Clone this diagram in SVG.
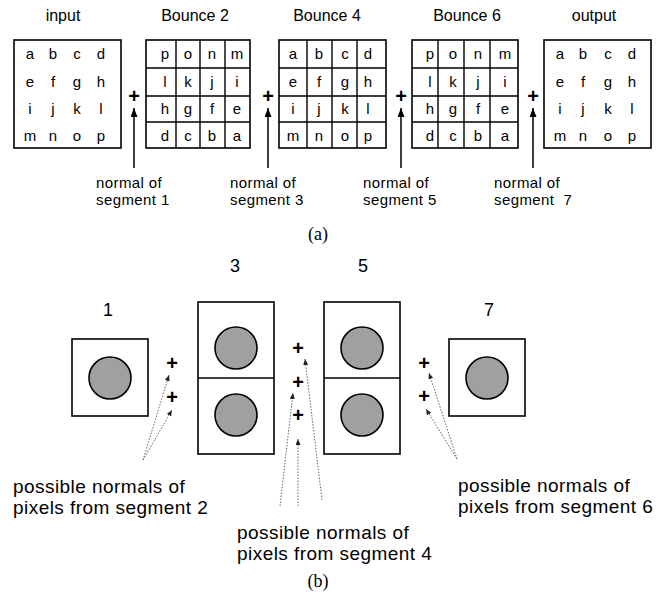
<svg xmlns="http://www.w3.org/2000/svg" width="663" height="597" viewBox="0 0 663 597">
<defs>
<marker id="ah" markerUnits="userSpaceOnUse" markerWidth="10" markerHeight="8" refX="9" refY="3.5" orient="auto"><path d="M0,0 L9,3.5 L0,7 z" fill="#000"/></marker>
<marker id="ahs" markerUnits="userSpaceOnUse" markerWidth="7" markerHeight="6" refX="6" refY="2.5" orient="auto"><path d="M0,0 L6,2.5 L0,5 z" fill="#222"/></marker>
</defs>
<style>
text{font-family:"Liberation Sans",Arial,sans-serif;fill:#000}
.lab{font-size:16px;text-anchor:middle}
.let{font-size:15px;text-anchor:middle}
.note{font-size:15px;letter-spacing:0.4px}
.big{font-size:19px;letter-spacing:0.45px}
.num{font-size:18px;text-anchor:middle}
.cap{font-family:"Liberation Serif","Times New Roman",serif;font-size:18px;text-anchor:middle}
.plus{font-weight:bold;font-size:20px;text-anchor:middle}
.box{fill:#fff;stroke:#000;stroke-width:1.6}
.grid{stroke:#000;stroke-width:1.4;fill:none}
.dot{fill:#a0a0a0;stroke:#000;stroke-width:1.6}
.arr{stroke:#000;stroke-width:1.5;fill:none;marker-end:url(#ah)}
.dash{stroke:#666;stroke-width:1;stroke-dasharray:1.5 1.5;fill:none;marker-end:url(#ahs)}
</style>

<!-- (a) -->
<g id="input">
<text class="lab" x="63" y="21">input</text>
<rect class="box" x="14" y="40" width="107" height="108"/>
<g class="let">
<text x="30" y="59">a</text><text x="53" y="59">b</text><text x="77" y="59">c</text><text x="101" y="59">d</text>
<text x="30" y="87">e</text><text x="53" y="87">f</text><text x="77" y="87">g</text><text x="101" y="87">h</text>
<text x="30" y="114">i</text><text x="53" y="114">j</text><text x="77" y="114">k</text><text x="101" y="114">l</text>
<text x="30" y="141">m</text><text x="53" y="141">n</text><text x="77" y="141">o</text><text x="101" y="141">p</text>
</g>
</g>

<g id="bounce2">
<text class="lab" x="195" y="21">Bounce 2</text>
<rect class="box" x="146" y="40" width="104" height="108"/>
<path class="grid" d="M176,40V148M200,40V148M225,40V148M146,68H250M146,96H250M146,122H250"/>
<g class="let">
<text x="165" y="59">p</text><text x="188" y="59">o</text><text x="212" y="59">n</text><text x="237" y="59">m</text>
<text x="165" y="87">l</text><text x="188" y="87">k</text><text x="212" y="87">j</text><text x="237" y="87">i</text>
<text x="165" y="114">h</text><text x="188" y="114">g</text><text x="212" y="114">f</text><text x="237" y="114">e</text>
<text x="165" y="141">d</text><text x="188" y="141">c</text><text x="212" y="141">b</text><text x="237" y="141">a</text>
</g>
</g>

<g id="bounce4">
<text class="lab" x="327" y="21">Bounce 4</text>
<rect class="box" x="279" y="40" width="107" height="108"/>
<path class="grid" d="M307,40V148M332,40V148M357,40V148M279,68H386M279,96H386M279,122H386"/>
<g class="let">
<text x="293" y="59">a</text><text x="319" y="59">b</text><text x="345" y="59">c</text><text x="368" y="59">d</text>
<text x="293" y="87">e</text><text x="319" y="87">f</text><text x="345" y="87">g</text><text x="368" y="87">h</text>
<text x="293" y="114">i</text><text x="319" y="114">j</text><text x="345" y="114">k</text><text x="368" y="114">l</text>
<text x="293" y="141">m</text><text x="319" y="141">n</text><text x="345" y="141">o</text><text x="368" y="141">p</text>
</g>
</g>

<g id="bounce6">
<text class="lab" x="467" y="21">Bounce 6</text>
<rect class="box" x="412" y="40" width="106" height="108"/>
<path class="grid" d="M438,40V148M464,40V148M490,40V148M412,68H518M412,96H518M412,122H518"/>
<g class="let">
<text x="430" y="59">p</text><text x="453" y="59">o</text><text x="478" y="59">n</text><text x="505" y="59">m</text>
<text x="430" y="87">l</text><text x="453" y="87">k</text><text x="478" y="87">j</text><text x="505" y="87">i</text>
<text x="430" y="114">h</text><text x="453" y="114">g</text><text x="478" y="114">f</text><text x="505" y="114">e</text>
<text x="430" y="141">d</text><text x="453" y="141">c</text><text x="478" y="141">b</text><text x="505" y="141">a</text>
</g>
</g>

<g id="output">
<text class="lab" x="594" y="21">output</text>
<rect class="box" x="544" y="40" width="107" height="108"/>
<g class="let">
<text x="560" y="59">a</text><text x="583" y="59">b</text><text x="608" y="59">c</text><text x="632" y="59">d</text>
<text x="560" y="87">e</text><text x="583" y="87">f</text><text x="608" y="87">g</text><text x="632" y="87">h</text>
<text x="560" y="114">i</text><text x="583" y="114">j</text><text x="608" y="114">k</text><text x="632" y="114">l</text>
<text x="560" y="141">m</text><text x="583" y="141">n</text><text x="608" y="141">o</text><text x="632" y="141">p</text>
</g>
</g>

<g id="normals-a">
<text class="plus" x="134" y="103">+</text>
<text class="plus" x="268" y="103">+</text>
<text class="plus" x="401" y="103">+</text>
<text class="plus" x="533" y="103">+</text>
<text class="note" x="96" y="188">normal of</text><text class="note" x="96" y="205">segment 1</text>
<text class="note" x="230" y="188">normal of</text><text class="note" x="230" y="205">segment 3</text>
<text class="note" x="363" y="188">normal of</text><text class="note" x="363" y="205">segment 5</text>
<text class="note" x="494" y="188" xml:space="preserve">normal of</text><text class="note" x="494" y="205" xml:space="preserve">segment  7</text>
</g>

<g id="connectors-a">
<line class="arr" x1="134" y1="168" x2="134" y2="108"/>
<line class="arr" x1="268" y1="168" x2="268" y2="108"/>
<line class="arr" x1="401" y1="168" x2="401" y2="108"/>
<line class="arr" x1="533" y1="168" x2="533" y2="108"/>
</g>

<text class="cap" x="318" y="240">(a)</text>

<!-- (b) -->
<g id="seg1">
<text class="num" x="108" y="316">1</text>
<rect class="box" x="72" y="339" width="76" height="77"/>
<circle class="dot" cx="110" cy="378" r="21"/>
</g>
<g id="seg3">
<text class="num" x="235" y="272">3</text>
<rect class="box" x="198" y="302" width="76" height="152"/>
<line class="grid" x1="198" y1="378" x2="274" y2="378"/>
<circle class="dot" cx="236" cy="348" r="21"/>
<circle class="dot" cx="236" cy="415" r="21"/>
</g>
<g id="seg5">
<text class="num" x="363" y="272">5</text>
<rect class="box" x="324" y="302" width="76" height="152"/>
<line class="grid" x1="324" y1="378" x2="400" y2="378"/>
<circle class="dot" cx="362" cy="348" r="21"/>
<circle class="dot" cx="362" cy="415" r="21"/>
</g>
<g id="seg7">
<text class="num" x="489" y="316">7</text>
<rect class="box" x="449" y="339" width="76" height="77"/>
<circle class="dot" cx="487" cy="378" r="21"/>
</g>

<g id="normals-b">
<text class="plus" x="172" y="370">+</text>
<text class="plus" x="172" y="404">+</text>
<text class="plus" x="298" y="355">+</text>
<text class="plus" x="298" y="389">+</text>
<text class="plus" x="298" y="422">+</text>
<text class="plus" x="424" y="370">+</text>
<text class="plus" x="424" y="403">+</text>
</g>

<g id="connectors-b">
<line class="dash" x1="143" y1="460" x2="169" y2="375"/>
<line class="dash" x1="143" y1="460" x2="172" y2="410"/>
<line class="dash" x1="280" y1="506" x2="293" y2="393"/>
<line class="dash" x1="298" y1="506" x2="298" y2="439"/>
<line class="dash" x1="322" y1="500" x2="305" y2="359"/>
<line class="dash" x1="457" y1="459" x2="429" y2="373"/>
<line class="dash" x1="457" y1="459" x2="426" y2="409"/>
</g>

<g id="labels-b">
<text class="big" x="13" y="493">possible normals of</text>
<text class="big" x="13" y="514">pixels from segment 2</text>
<text class="big" x="237" y="539">possible normals of</text>
<text class="big" x="237" y="560">pixels from segment 4</text>
<text class="big" x="458" y="492">possible normals of</text>
<text class="big" x="458" y="513">pixels from segment 6</text>
</g>

<text class="cap" x="318" y="587">(b)</text>
</svg>
